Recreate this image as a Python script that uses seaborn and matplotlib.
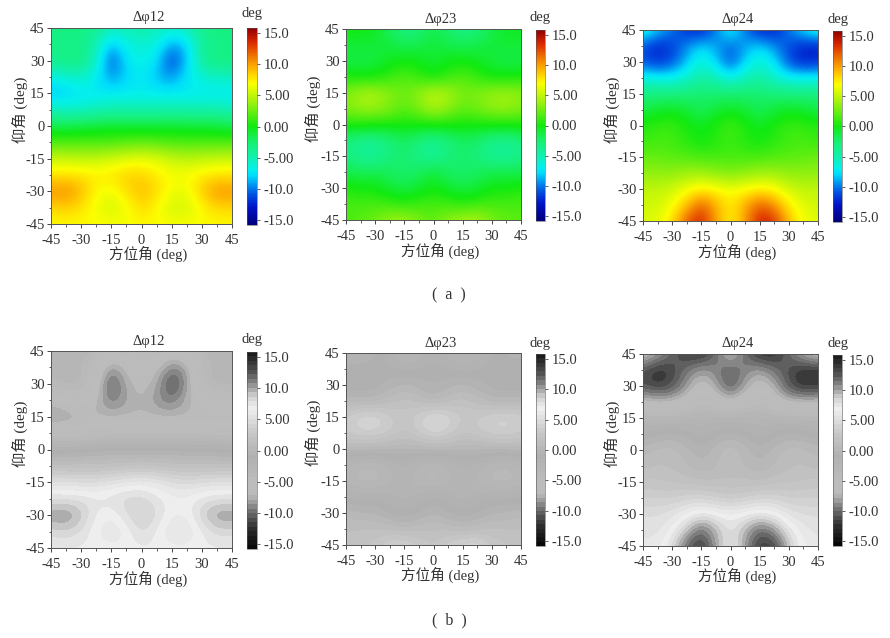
import numpy as np
import matplotlib
matplotlib.use("Agg")
import matplotlib.pyplot as plt
import seaborn as sns

azimuth = [-45, -37.5, -30, -22.5, -15, -7.5, 0, 7.5, 15, 22.5, 30, 37.5, 45]
elevation = [45, 37.5, 30, 22.5, 15, 7.5, 0, -7.5, -15, -22.5, -30, -37.5, -45]

dphi12 = [
    [-3, -3, -3, -3.5, -5, -5, -4.5, -5, -5.5, -5, -3.5, -3, -3],
    [-3.5, -3.5, -3.5, -5, -8.5, -6.5, -6, -6.5, -9, -8, -4, -3.5, -3.5],
    [-3.5, -3, -3, -5.5, -11, -7.5, -6.5, -7.5, -11.5, -8.5, -4, -3, -3],
    [-6.5, -6, -5.5, -7, -9.5, -8, -7, -8.5, -9.5, -7.5, -6, -5.5, -5.5],
    [-8.6, -8, -7.5, -7.3, -7.3, -7.2, -7.2, -7.2, -7.3, -7.2, -7.3, -7.3, -7.3],
    [-5.5, -6, -6, -5.5, -5, -5, -5, -5, -5, -5, -5, -5, -5.5],
    [-1.5, -1.5, -1.2, -1, -0.8, -1, -1, -1, -0.8, -1, -1, -1.2, -1.5],
    [1.5, 1.5, 1.5, 1.5, 1.5, 1.8, 2, 1.8, 1.5, 1.5, 1.5, 1.5, 1.5],
    [5.3, 5.2, 5, 5, 5.5, 6, 6.3, 6, 5.2, 4.8, 5, 5.2, 5.3],
    [7.8, 7.8, 7.8, 7.5, 7.8, 8.4, 8.4, 7.5, 6.8, 6.8, 7.5, 7.8, 7.8],
    [10.2, 10.6, 9.2, 7, 6.5, 8, 9, 8.2, 6.5, 6.5, 8.6, 10.4, 10.2],
    [8.2, 8.6, 7.8, 6.5, 5.5, 6.5, 8.3, 7, 5.5, 5.5, 7, 8.2, 8.2],
    [7, 7, 7, 7, 6.8, 6.8, 7, 7, 6.8, 6.8, 7, 7, 7],
]

dphi23 = [
    [0, 0, -0.5, -2, -3.2, -3, -1.5, -2.5, -3.5, -3, -1.5, -0.5, -0.5],
    [-1, -1, -1, -1.2, -1.8, -1.5, -1, -1.5, -1.8, -1.5, -1, -1, -1],
    [-1.5, -1.5, -1.2, -0.5, 0, -0.3, -1, -0.3, 0, -0.5, -1.2, -1.5, -1.5],
    [0.3, 0, 0, 1, 1.8, 1, 0, 1, 1.8, 1, 0, 0, 0.3],
    [3, 4.3, 4.5, 3.2, 2.5, 3.5, 5, 4.3, 2.8, 3, 3.8, 4, 3.5],
    [3, 3.8, 3.8, 3, 2, 3, 4.5, 3.5, 2.2, 2.8, 3.5, 3.8, 3],
    [0.5, 0.5, 0.3, 0.3, 0.2, 0.2, 0.3, 0.3, 0.2, 0.2, 0.3, 0.3, 0.5],
    [-3, -3.8, -3.8, -3, -2, -3, -3.8, -3, -2, -2.5, -3.5, -3.8, -3],
    [-3, -4, -4.2, -3, -2.5, -3.5, -4.2, -3, -2.5, -3, -4, -4.2, -3.5],
    [-1.5, -1.8, -1.5, -2, -2.5, -2, -1, -2, -2.5, -2, -1.5, -1.5, -1.5],
    [0.5, 0, 0, -1, -1.5, -0.8, 0, -0.8, -1.5, -1, 0, 0, 0.5],
    [1.5, 1.5, 1.5, 1.2, 0.8, 1.2, 1.5, 1.2, 0.8, 1.2, 1.5, 1.5, 1.5],
    [1.5, 2, 2.5, 3.8, 4, 3, 2, 3.5, 4.2, 4.5, 2.8, 2.2, 2],
]

dphi24 = [
    [-6, -8, -10, -12, -12.5, -10, -6.5, -10, -12.5, -12.5, -10, -7.5, -6],
    [-11, -12.5, -11.5, -9.5, -8, -9, -10.5, -9, -8, -9.5, -11, -12.5, -12.5],
    [-11, -12, -11, -8.5, -6, -8, -11, -8, -6, -7.5, -11, -12.5, -12],
    [-6.5, -7, -7, -6, -4.5, -5.3, -7, -5.3, -4.5, -6, -7, -7, -7],
    [-3, -3, -3, -2.8, -2.5, -2.5, -2.5, -2.5, -2.5, -2.8, -3, -3, -3],
    [-1.5, -0.8, -0.5, -1, -2, -1, -0.5, -1, -2, -1, -0.5, -0.8, -1.5],
    [0.5, 1, 1.2, 0.3, -0.5, 0.5, 1.5, 0.5, -0.5, 0.3, 1.2, 1, 0.5],
    [1, 1.5, 1.3, 0.7, 0, 0.5, 1.2, 0.5, 0, 0.7, 1.3, 1.5, 1],
    [2.5, 2.2, 2, 1.8, 1.5, 1.5, 1.5, 1.5, 1.5, 1.8, 2, 2.2, 2.5],
    [3.5, 3.5, 3.5, 4, 4, 3.5, 3, 3.5, 4, 4, 3.5, 3.5, 3.5],
    [5, 5, 5.5, 6.5, 7.5, 7, 6.5, 7, 7.5, 7, 5.5, 5, 5],
    [5.5, 5.5, 6.5, 9, 12, 9.5, 7.5, 9.5, 12, 10.5, 7.5, 6, 5.5],
    [6, 6, 8, 12, 14, 10, 7, 10, 14, 13.5, 9, 6.5, 6],
]

panel_titles = ["Δφ12", "Δφ23", "Δφ24"]
angle_ticks = [-45, -30, -15, 0, 15, 30, 45]
minor_ticks = [-37.5, -22.5, -7.5, 7.5, 22.5, 37.5]
bar_ticks = [15, 10, 5, 0, -5, -10, -15]
bar_labels = ["15.0", "10.0", "5.00", "0.00", "-5.00", "-10.0", "-15.0"]

sns.set_theme(style="ticks")
TXT = "#333333"
plt.rcParams["font.family"] = ["Liberation Serif", "Noto Sans CJK SC"]
plt.rcParams["axes.unicode_minus"] = False

W, H = 890, 638
fig = plt.figure(figsize=(W / 100, H / 100), dpi=100)

stops = [(-15.8, "#00007a"), (-13, "#0010c8"), (-10.5, "#0060e8"), (-7.5, "#00f0ff"),
         (-5, "#10f0b0"), (-2.5, "#18f070"), (0, "#10ea10"), (3.5, "#90f010"),
         (7, "#ffff00"), (9.5, "#ffb000"), (11.5, "#ee7000"), (13.5, "#dd2800"), (15.8, "#900000")]
gstops = [(-15.8, "#080808"), (-12.5, "#303030"), (-10, "#707070"), (-8.5, "#9a9a9a"),
          (-7.5, "#bcbcbc"), (-5, "#bcbcbc"), (-1, "#b0b0b0"), (3, "#c8c8c8"),
          (7, "#f0f0f0"), (9, "#cfcfcf"), (10.3, "#a0a0a0"), (12.5, "#5a5a5a"), (15.8, "#1c1c1c")]


def make_cmap(st, n):
    vals = np.linspace(-15.8, 15.8, 33)
    xs = [s[0] for s in st]
    rgb = np.array([matplotlib.colors.to_rgb(s[1]) for s in st])
    cols = [tuple(np.interp(v, xs, rgb[:, i]) for i in range(3)) for v in vals]
    return sns.blend_palette(cols, as_cmap=True).resampled(n)


jet_like = make_cmap(stops, 256)
gray_like = make_cmap(gstops, 44)


def px_axes(x0, x1, y0, y1):
    return fig.add_axes([x0 / W, 1 - y1 / H, (x1 - x0) / W, (y1 - y0) / H])


def panel(data, cmap, box, cbox, title, title_y, deg_y, xlabel_y, ylabel):
    ax = px_axes(*box)
    half = (azimuth[1] - azimuth[0]) / 2
    im = ax.imshow(np.array(data), cmap=cmap, vmin=-15.8, vmax=15.8, aspect="auto", origin="upper",
                   extent=(azimuth[0] - half, azimuth[-1] + half, elevation[-1] - half, elevation[0] + half),
                   interpolation="bicubic", interpolation_stage="data")
    ax.set_xlim(-45, 45)
    ax.set_ylim(-45, 45)
    ax.set_xticks(angle_ticks)
    ax.set_yticks(angle_ticks)
    ax.set_xticks(minor_ticks, minor=True)
    ax.set_yticks(minor_ticks, minor=True)
    ax.tick_params(which="major", length=3, width=0.7, labelsize=10.5, labelcolor=TXT, color="#444444", pad=1.5)
    ax.tick_params(axis="x", which="major", pad=4.5)
    ax.tick_params(which="minor", length=1.8, width=0.6, color="#444444")
    for s in ax.spines.values():
        s.set_linewidth(0.7)
        s.set_color("#555555")
    xc = (box[0] + box[1]) / 2 + 7
    fig.text(xc / W, 1 - title_y / H, title, ha="center", va="center", fontsize=10.5, color=TXT)
    fig.text(xc / W, 1 - xlabel_y / H, "方位角 (deg)", ha="center", va="center", fontsize=10.5, color=TXT)
    fig.text(ylabel / W, 1 - ((box[2] + box[3]) / 2 - 16) / H, "仰角 (deg)", rotation=90, ha="center", va="center",
             fontsize=11, color=TXT)
    cax = px_axes(*cbox)
    cb = fig.colorbar(im, cax=cax, ticks=bar_ticks)
    cb.ax.set_yticklabels(bar_labels)
    cb.ax.tick_params(length=2, width=0.6, labelsize=10.5, labelcolor=TXT, color="#444444", pad=3)
    cb.outline.set_linewidth(0.4)
    cb.outline.set_edgecolor("#555555")
    fig.text((cbox[0] + cbox[1]) / 2 / W, 1 - deg_y / H, "deg", ha="center", va="center", fontsize=10.5, color=TXT)


datasets = [dphi12, dphi23, dphi24]
boxes_a = [(51, 232, 28, 224), (346, 521, 29, 220), (643, 818, 30, 221)]
cbars_a = [(247, 257, 28, 225), (536, 545, 30, 221), (833, 842, 31, 222)]
boxes_b = [(51, 232, 351, 548), (346, 521, 353, 545), (643, 818, 354, 546)]
cbars_b = [(247, 257, 352, 549), (536, 545, 354, 546), (833, 842, 355, 546)]
title_a, deg_a, xl_a = [17, 20, 19], [14, 18, 19], [254, 251, 252]
title_b, deg_b, xl_b = [341, 344, 344], [340, 344, 344], [579, 575, 576]
ylab = [20, 313, 612]

for i in range(3):
    panel(datasets[i], jet_like, boxes_a[i], cbars_a[i], panel_titles[i], title_a[i], deg_a[i], xl_a[i], ylab[i])
    panel(datasets[i], gray_like, boxes_b[i], cbars_b[i], panel_titles[i], title_b[i], deg_b[i], xl_b[i], ylab[i])

fig.text(449 / W, 1 - 295 / H, "(  a  )", ha="center", va="center", fontsize=11.5, color=TXT)
fig.text(449 / W, 1 - 620 / H, "(  b  )", ha="center", va="center", fontsize=11.5, color=TXT)

fig.savefig("out.png", dpi=100)
